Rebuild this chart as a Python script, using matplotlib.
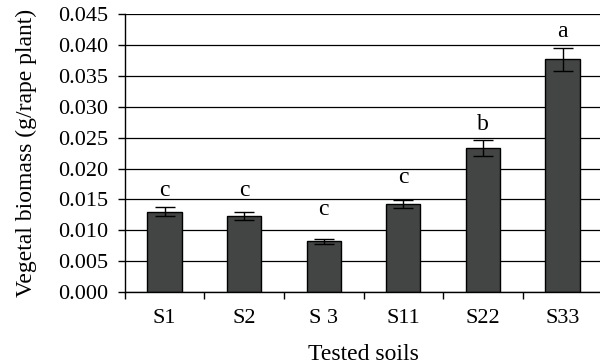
import matplotlib
matplotlib.use("Agg")
import matplotlib.pyplot as plt
import numpy as np

categories = ["S1", "S2", "S 3", "S11", "S22", "S33"]
values = [0.0130, 0.0123, 0.0082, 0.0143, 0.0234, 0.0377]
errors = [0.0007, 0.00065, 0.0004, 0.00065, 0.0013, 0.0019]
letters = ["c", "c", "c", "c", "b", "a"]
letter_y = [0.01556, 0.01556, 0.01243, 0.01771, 0.02625, 0.04127]
yticks = [0.000, 0.005, 0.010, 0.015, 0.020, 0.025, 0.030, 0.035, 0.040, 0.045]

plt.rcParams['font.family'] = ['Liberation Serif', 'DejaVu Serif']

fig = plt.figure(figsize=(6.0, 3.64), dpi=100)
W, H = 600, 364
left, right, top, bottom = 124.7, 602.3, 14.3, 292.0
ax = fig.add_axes([left / W, 1 - bottom / H, (right - left) / W, (bottom - top) / H])

x = np.arange(len(categories))
ax.set_axisbelow(True)
ax.yaxis.grid(True, color='black', linewidth=0.9)
ax.bar(x, values, width=0.43, color='#434544', edgecolor='black', linewidth=1.0, zorder=2)
ax.errorbar(x, values, yerr=errors, fmt='none', ecolor='black', elinewidth=1.0,
            capsize=7.4, capthick=1.0, zorder=3)
for xi, ly, lab in zip(x, letter_y, letters):
    ax.text(xi, ly, lab, ha='center', va='baseline', fontsize=17)

ax.set_xlim(-0.5, 5.5)
ax.set_ylim(0, 0.045)
ax.set_yticks(yticks)
ax.set_yticklabels([f"{t:.3f}" for t in yticks])
ax.set_xticks(np.arange(-0.5, 5.6, 1.0), minor=False)
ax.set_xticklabels([])
ax.set_xticks(x, minor=True)
ax.set_xticklabels(categories, minor=True)
ax.tick_params(axis='x', which='minor', length=0, pad=12, labelsize=16)
ax.tick_params(axis='x', which='major', length=5, direction='out', width=1.0)
ax.tick_params(axis='y', length=5, direction='out', width=1.0, labelsize=16, pad=7)

for s in ['top', 'right']:
    ax.spines[s].set_visible(False)
ax.spines['left'].set_linewidth(1.0)
ax.spines['bottom'].set_linewidth(1.0)

ax.set_ylabel("Vegetal biomass (g/rape plant)", fontsize=17, labelpad=15)
ax.set_xlabel("Tested soils", fontsize=17, labelpad=12)

fig.savefig("out.png", dpi=100)
